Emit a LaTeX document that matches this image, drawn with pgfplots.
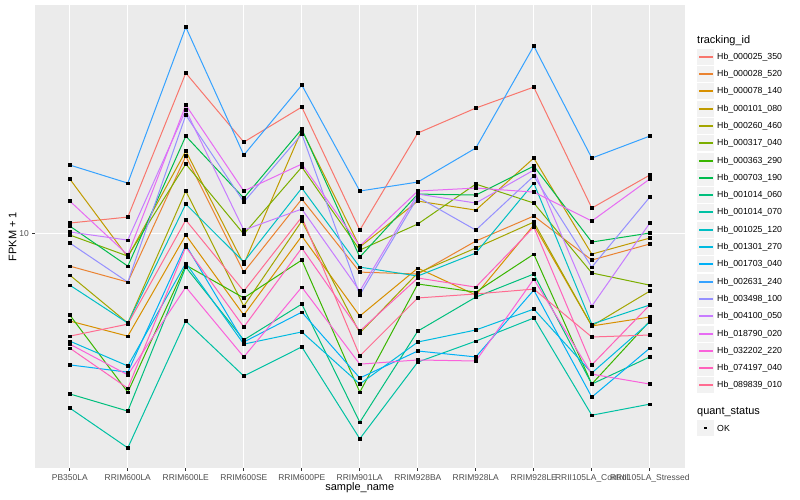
\documentclass[border=0pt]{standalone}
\usepackage{pgfplots}
\pgfplotsset{compat=1.18}
\usepackage{pgfplotstable}
\usepackage{fontspec}
\setmainfont{Liberation Sans}
\definecolor{c1}{HTML}{F8766D}
\definecolor{c2}{HTML}{EA8331}
\definecolor{c3}{HTML}{D89000}
\definecolor{c4}{HTML}{C09B00}
\definecolor{c5}{HTML}{A3A500}
\definecolor{c6}{HTML}{7CAE00}
\definecolor{c7}{HTML}{39B600}
\definecolor{c8}{HTML}{00BB4E}
\definecolor{c9}{HTML}{00BF7D}
\definecolor{c10}{HTML}{00C1A3}
\definecolor{c11}{HTML}{00BFC4}
\definecolor{c12}{HTML}{00BAE0}
\definecolor{c13}{HTML}{00B0F6}
\definecolor{c14}{HTML}{35A2FF}
\definecolor{c15}{HTML}{9590FF}
\definecolor{c16}{HTML}{C77CFF}
\definecolor{c17}{HTML}{E76BF3}
\definecolor{c18}{HTML}{FA62DB}
\definecolor{c19}{HTML}{FF62BC}
\definecolor{c20}{HTML}{FF6C91}
\definecolor{ggbg}{HTML}{EBEBEB}
\definecolor{keybg}{HTML}{F2F2F2}
\definecolor{grey20}{HTML}{333333}
\definecolor{grey30}{HTML}{4D4D4D}
\pgfplotstableread{
x s1 s2 s3 s4 s5 s6 s7 s8 s9 s10 s11 s12 s13 s14 s15 s16 s17 s18 s19 s20
0 10.84 7.79 5.11 15.20 7.27 9.89 5.35 10.59 2.92 2.62 6.73 4.38 3.65 16.92 9.30 10.12 12.83 4.28 4.15 4.55
1 11.35 6.89 4.55 8.35 5.03 8.41 2.96 7.79 2.56 1.93 5.03 3.62 3.45 14.73 6.89 9.51 8.48 3.38 3.05 4.99
2 34.28 18.13 9.89 18.84 13.86 17.05 7.85 21.13 7.73 5.11 12.54 7.97 9.16 48.79 24.83 25.80 26.82 6.63 9.02 11.09
3 20.18 7.44 5.35 7.91 5.73 9.96 6.10 13.13 4.42 3.35 8.04 4.28 4.35 18.27 12.74 10.27 13.86 3.88 4.88 6.43
4 26.41 13.03 9.81 22.13 11.01 16.66 8.16 22.30 5.82 4.19 14.18 4.70 5.47 31.26 21.46 12.07 17.05 6.63 8.95 11.35
5 10.27 7.44 5.31 9.02 4.66 8.81 2.96 8.35 2.35 2.07 7.73 3.15 3.30 13.86 6.24 6.43 9.09 3.67 4.73 3.91
6 21.63 7.33 7.67 12.83 7.39 10.76 6.79 13.54 4.73 3.73 7.22 4.35 4.06 14.85 13.23 13.54 13.86 3.79 7.11 6.10
7 26.20 9.44 6.24 11.97 8.95 14.62 6.38 13.44 6.14 4.38 8.61 4.77 3.88 19.28 10.27 12.64 14.18 3.76 6.63 6.29
8 30.78 11.44 10.68 17.85 10.92 12.64 8.54 16.79 7.33 5.23 14.73 5.60 6.48 42.17 15.55 16.28 13.75 7.05 10.51 6.53
9 12.16 8.16 4.92 8.54 4.92 7.39 3.15 9.37 3.15 2.48 4.99 3.43 2.85 17.85 7.73 5.73 11.01 3.40 3.65 4.52
10 15.67 9.23 5.27 9.66 6.43 6.73 5.11 10.04 3.88 2.70 5.78 5.07 4.15 21.13 13.23 10.84 15.20 3.15 5.78 4.59
}\datatable
\begin{document}
\begin{tikzpicture}
\path[use as bounding box] (0,0) rectangle (800bp,500bp);
\begin{axis}[
  at={(35bp,32bp)}, anchor=south west,
  scale only axis, width=649.6bp, height=463bp,
  ymode=log, xmin=-0.6, xmax=10.6, ymin=1.654, ymax=57.8,
  axis background/.style={fill=ggbg},
  axis line style={draw=none},
  xtick={0,...,10},
  xticklabels={PB350LA,RRIM600LA,RRIM600LE,RRIM600SE,RRIM600PE,RRIM901LA,RRIM928BA,RRIM928LA,RRIM928LE,RRII105LA\_Control,RRII105LA\_Stressed},
  ytick={10}, yticklabels={10},
  yminorticks=false, xminorticks=false,
  grid=major, major grid style={white, line width=1bp},
  tick align=outside, major tick length=2.75bp,
  tick style={color=grey20, line width=0.8bp},
  xtick pos=bottom, ytick pos=left,
  ticklabel style={font=\fontsize{8.5}{10}\selectfont, color=grey30},
  xlabel={sample\_name}, ylabel={FPKM + 1},
  every axis x label/.style={at={(axis description cs:0.5,-0.0432)}, anchor=center, font=\fontsize{11}{13}\selectfont},
  every axis y label/.style={at={(axis description cs:-0.0346,0.5)}, rotate=90, anchor=center, font=\fontsize{11}{13}\selectfont},
  clip=false,
]
\pgfplotsinvokeforeach{1,...,20}{
  \addplot[c#1, line width=1bp, mark=none] table[x=x, y=s#1]{\datatable};
}
\pgfplotsinvokeforeach{1,...,20}{
  \addplot[only marks, mark=square*, mark size=1.4bp, black] table[x=x, y=s#1]{\datatable};
}
\end{axis}
% legend
\node[anchor=west, font=\fontsize{11}{13}\selectfont, inner sep=0pt] at (697bp,459.3bp) {tracking\_id};
\foreach \i/\nm in {1/Hb\_000025\_350,2/Hb\_000028\_520,3/Hb\_000078\_140,4/Hb\_000101\_080,5/Hb\_000260\_460,6/Hb\_000317\_040,7/Hb\_000363\_290,8/Hb\_000703\_190,9/Hb\_001014\_060,10/Hb\_001014\_070,11/Hb\_001025\_120,12/Hb\_001301\_270,13/Hb\_001703\_040,14/Hb\_002631\_240,15/Hb\_003498\_100,16/Hb\_004100\_050,17/Hb\_018790\_020,18/Hb\_032202\_220,19/Hb\_074197\_040,20/Hb\_089839\_010}{
  \pgfmathsetmacro\yc{round(500-56.7-17.3*(\i-1))}
  \fill[keybg] (697bp,\yc bp-8.4bp) rectangle (714bp,\yc bp+8.4bp);
  \fill[c\i] (698.5bp,\yc bp-0.9bp) rectangle (712.5bp,\yc bp+0.9bp);
  \node[anchor=west, font=\fontsize{8.8}{10}\selectfont, inner sep=0pt] at (717bp,\yc bp) {\nm};
}
\node[anchor=west, font=\fontsize{11}{13}\selectfont, inner sep=0pt] at (697bp,88.3bp) {quant\_status};
\fill[keybg] (697bp,63.6bp) rectangle (714bp,80.4bp);
\fill[black] (704.1bp,70.6bp) rectangle (706.9bp,73.4bp);
\node[anchor=west, font=\fontsize{8.8}{10}\selectfont, inner sep=0pt] at (717bp,72bp) {OK};
\end{tikzpicture}
\end{document}
